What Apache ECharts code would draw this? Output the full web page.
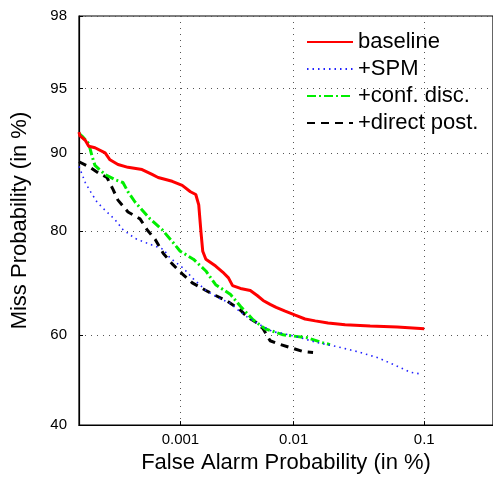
<!DOCTYPE html>
<html>
<head>
<meta charset="utf-8">
<script src="https://cdn.jsdelivr.net/npm/echarts@6/dist/echarts.min.js"></script>
<style>html,body{margin:0;padding:0;background:#fff;}#c{width:493px;height:479px;}</style>
</head>
<body>
<div id="c"></div>
<script>
// ---- data (percent values) ----
const xTickValues = [0.001, 0.01, 0.1];
const xTickLabels = ['0.001', '0.01', '0.1'];
const yTickValues = [40, 60, 80, 90, 95, 98];
const yTickLabels = ['40', '60', '80', '90', '95', '98'];
const xRange = [0.0001, 0.29];
const yRange = [40, 98];
const seriesNames = ['baseline', '+SPM', '+conf. disc.', '+direct post.'];

const baselineFA = [0.0001,0.000102,0.000116,0.000126,0.000146,0.000185,0.000207,0.000249,0.000313,0.00043,0.000538,0.000615,0.000837,0.00104,0.00124,0.00139,0.00148,0.00155,0.00161,0.00172,0.00211,0.00244,0.00275,0.00299,0.00351,0.00428,0.00491,0.00552,0.00634,0.00713,0.00849,0.0103,0.0124,0.015,0.019,0.0259,0.0403,0.064,0.1];
const baselineMiss = [91.9,91.6,91.2,90.65,90.5,90.0,89.3,88.8,88.5,88.25,87.7,87.35,86.9,86.4,85.6,85.25,83.85,79.9,76.65,75.25,74.0,72.9,71.8,70.3,69.75,69.35,68.35,67.35,66.55,65.95,65.15,64.3,63.5,63.1,62.65,62.25,62.0,61.8,61.4];

const spmFA = [0.0001,0.000116,0.00013,0.000153,0.000185,0.000232,0.000279,0.000367,0.00046,0.000575,0.000687,0.0008,0.00106,0.00132,0.00172,0.0022,0.00287,0.00351,0.00404,0.0052,0.00671,0.0077,0.0107,0.0155,0.0224,0.0321,0.0455,0.064,0.0795,0.0938];
const spmMiss = [88.6,86.75,85.7,84.25,83.1,81.75,80.2,78.8,78.15,77.5,77.0,75.45,73.65,71.6,69.35,67.95,66.75,64.95,63.9,62.25,60.75,60.5,59.65,58.4,57.5,56.4,55.1,53.15,51.8,51.4];

const confFA = [0.0001,0.000108,0.000126,0.000136,0.000146,0.000185,0.000232,0.000279,0.000313,0.000367,0.000514,0.000672,0.000837,0.000995,0.00132,0.00172,0.00211,0.00287,0.00351,0.00454,0.00574,0.00817,0.0129,0.017,0.0197];
const confMiss = [91.8,91.55,90.9,89.7,88.7,87.7,87.1,86.75,85.6,84.25,81.85,80.2,78.3,76.65,75.25,73.1,70.5,68.55,66.15,63.3,61.4,60.1,59.45,58.4,57.95];

const directFA = [0.0001,0.00013,0.000157,0.000193,0.000222,0.000249,0.000313,0.000411,0.000481,0.000575,0.000687,0.000837,0.00104,0.00129,0.00172,0.00211,0.0027,0.00351,0.00404,0.00491,0.00552,0.00634,0.00726,0.00933,0.012,0.0144];
const directMiss = [89.1,88.5,87.9,87.35,85.9,84.5,82.85,81.85,80.2,78.65,76.3,74.4,72.57,70.85,69.35,68.35,67.15,65.35,63.9,62.65,61.4,58.8,58.2,57.3,56.4,56.2];

// ---- normal-deviate (probit) scale ----
function probit(p) {
  const a=[-3.969683028665376e+01,2.209460984245205e+02,-2.759285104469687e+02,1.383577518672690e+02,-3.066479806614716e+01,2.506628277459239e+00];
  const b=[-5.447609879822406e+01,1.615858368580409e+02,-1.556989798598866e+02,6.680131188771972e+01,-1.328068155288572e+01];
  const c=[-7.784894002430293e-03,-3.223964580411365e-01,-2.400758277161838e+00,-2.549732539343734e+00,4.374664141464968e+00,2.938163982698783e+00];
  const d=[7.784695709041462e-03,3.224671290700398e-01,2.445134137142996e+00,3.754408661907416e+00];
  const plow=0.02425, phigh=1-plow;
  let q, r;
  if (p < plow) { q=Math.sqrt(-2*Math.log(p)); return (((((c[0]*q+c[1])*q+c[2])*q+c[3])*q+c[4])*q+c[5])/((((d[0]*q+d[1])*q+d[2])*q+d[3])*q+1); }
  if (p <= phigh) { q=p-0.5; r=q*q; return (((((a[0]*r+a[1])*r+a[2])*r+a[3])*r+a[4])*r+a[5])*q/(((((b[0]*r+b[1])*r+b[2])*r+b[3])*r+b[4])*r+1); }
  q=Math.sqrt(-2*Math.log(1-p)); return -(((((c[0]*q+c[1])*q+c[2])*q+c[3])*q+c[4])*q+c[5])/((((d[0]*q+d[1])*q+d[2])*q+d[3])*q+1);
}
const pz = v => probit(v / 100);
const toPts = (xs, ys) => xs.map((x, i) => [pz(x), pz(ys[i])]);
function labelFor(vals, labels) {
  return function (v) {
    let best = 0, bd = Infinity;
    vals.forEach((t, i) => { const dd = Math.abs(pz(t) - v); if (dd < bd) { bd = dd; best = i; } });
    return bd < 1e-3 ? labels[best] : '';
  };
}

const FONT = 'Liberation Sans';
const chart = echarts.init(document.getElementById('c'), null, {renderer: 'canvas'});
const gridLine = {show: true, lineStyle: {color: '#555', width: 1, type: [1, 5]}};
const styles = [
  {color: '#ff0000', width: 3, type: 'solid'},
  {color: '#2020ff', width: 1.6, type: [1.5, 4]},
  {color: '#00ee00', width: 3, type: [9, 3, 2, 3]},
  {color: '#000000', width: 3, type: [8, 6]}
];
const datas = [toPts(baselineFA, baselineMiss), toPts(spmFA, spmMiss), toPts(confFA, confMiss), toPts(directFA, directMiss)];

chart.setOption({
  animation: false,
  backgroundColor: '#fff',
  grid: {left: 79, top: 16, right: -6, bottom: 47, show: true, borderColor: '#000', borderWidth: 1.2},
  legend: {
    left: 306, top: 31, orient: 'vertical', padding: 0, itemGap: 5, itemWidth: 46, itemHeight: 20,
    textStyle: {fontFamily: FONT, fontSize: 22, color: '#000'},
    itemStyle: {opacity: 0},
    data: seriesNames
  },
  xAxis: {
    type: 'value', min: pz(xRange[0]), max: pz(xRange[1]),
    name: 'False Alarm Probability (in %)', nameLocation: 'middle', nameGap: 22,
    nameTextStyle: {fontFamily: FONT, fontSize: 22, color: '#000'},
    axisLine: {show: true, onZero: false, lineStyle: {color: '#000', width: 1.2}},
    axisTick: {show: true, inside: true, length: 4, customValues: xTickValues.map(pz), lineStyle: {color: '#000'}},
    axisLabel: {customValues: xTickValues.map(pz), formatter: labelFor(xTickValues, xTickLabels), fontFamily: FONT, fontSize: 15, color: '#000', margin: 7},
    splitLine: gridLine
  },
  yAxis: {
    type: 'value', min: pz(yRange[0]), max: pz(yRange[1]),
    name: 'Miss Probability (in %)', nameLocation: 'middle', nameGap: 48, nameRotate: 90,
    nameTextStyle: {fontFamily: FONT, fontSize: 22, color: '#000'},
    axisLine: {show: true, onZero: false, lineStyle: {color: '#000', width: 1.2}},
    axisTick: {show: true, inside: true, length: 4, customValues: yTickValues.map(pz), lineStyle: {color: '#000'}},
    axisLabel: {customValues: yTickValues.map(pz), formatter: labelFor(yTickValues, yTickLabels), fontFamily: FONT, fontSize: 15, color: '#000', margin: 12},
    splitLine: gridLine
  },
  series: seriesNames.map((n, i) => ({
    name: n, type: 'line', data: datas[i], showSymbol: false, symbol: 'none',
    lineStyle: styles[i], itemStyle: {color: styles[i].color}, clip: true, z: 10 - i
  }))
});
</script>
</body>
</html>
